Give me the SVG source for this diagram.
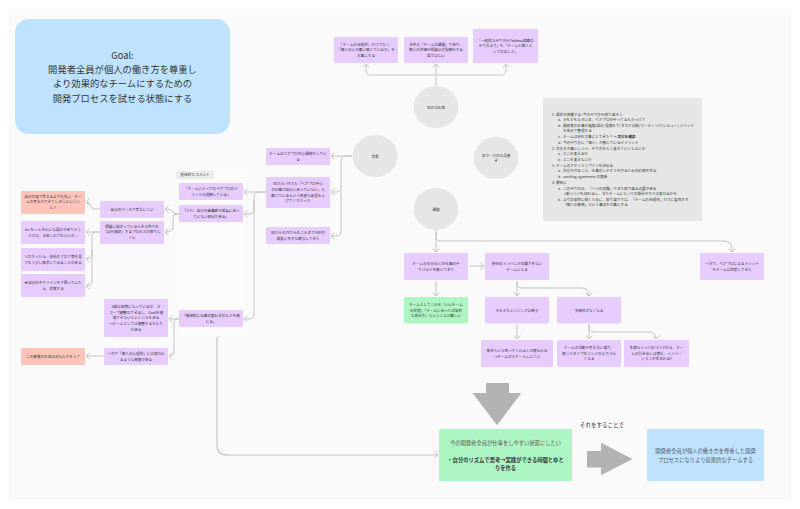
<svg xmlns="http://www.w3.org/2000/svg" width="800" height="509" viewBox="0 0 800 509">
<style>
text{font-family:"Noto Sans CJK JP","Liberation Sans",sans-serif;fill:#333}
.t{font-size:3.6px;text-anchor:middle}
.n{font-size:3.6px}
.b{font-weight:700}
.m{fill:#555}
.p{fill:#e6ccff}
.r{fill:#ffc4ba}
.g{fill:#aef5c4}
.c{fill:#e6e6e6}
.l{fill:none;stroke:#c4c4c4;stroke-width:1}
.big{fill:#b2b2b2;stroke:#b2b2b2;stroke-width:1;stroke-linejoin:round}
</style>
<defs>
<marker id="a" markerUnits="userSpaceOnUse" markerWidth="8" markerHeight="8" refX="6" refY="4" orient="auto"><path d="M2.500 .8L6 4L2.500 7.200" fill="none" stroke="#c4c4c4" stroke-width="1"/></marker>
</defs>
<rect width="800" height="509" fill="#fff"/>
<rect x="10" y="10" width="780" height="489" fill="#fafafa" stroke="#efefef" stroke-width=".6"/>
<rect x="176" y="171" width="71" height="166" rx="4" fill="#fbfbfb" stroke="#f4f4f4" stroke-width=".5"/>
<g id="connectors">
<path class="l" marker-end="url(#a)" d="M436 86V64"/>
<path class="l" marker-end="url(#a)" d="M436 75H371Q366 75 366 70V64"/>
<path class="l" marker-end="url(#a)" d="M436 75H501Q506 75 506 70V64"/>
<path class="l" marker-end="url(#a)" d="M352 156H331"/>
<path class="l" marker-end="url(#a)" d="M352 156H346Q341 156 341 161V187Q341 192 336 192H331"/>
<path class="l" marker-end="url(#a)" d="M341 190V231Q341 236 336 236H331"/>
<path class="l" marker-end="url(#a)" d="M266 192H244"/>
<path class="l" marker-end="url(#a)" d="M266 192H259Q254 192 254 197V209Q254 214 249 214H244"/>
<path class="l" marker-end="url(#a)" d="M254 200V314Q254 319 249 319H244"/>
<path class="l" marker-end="url(#a)" d="M179 214H177Q173 214 172 211Q171 209 165 209"/>
<path class="l" marker-end="url(#a)" d="M179 214H177Q173 214 173 218V228Q173 232 165 232"/>
<path class="l" marker-end="url(#a)" d="M100 209H94Q92 209 91 206Q90 202 86 202"/>
<path class="l" marker-end="url(#a)" d="M100 232H86"/>
<path class="l" marker-end="url(#a)" d="M100 232H95Q92 232 92 236V255Q92 259 86 259"/>
<path class="l" marker-end="url(#a)" d="M92 250V282Q92 286 86 286"/>
<path class="l" marker-end="url(#a)" d="M179 319H169"/>
<path class="l" marker-end="url(#a)" d="M179 319H177Q174 319 174 322V351Q174 356 169 356"/>
<path class="l" marker-end="url(#a)" d="M104 356H86"/>
<path class="l" style="stroke-width:1.200" marker-end="url(#a)" d="M217 337V445Q217 455 227 455H438"/>
<path class="l" marker-end="url(#a)" d="M436 230V252"/>
<path class="l" marker-end="url(#a)" d="M436 232V237Q436 241 441 241H724Q732 241 732 249V252"/>
<path class="l" marker-end="url(#a)" d="M469 266H484"/>
<path class="l" marker-end="url(#a)" d="M436 281V296"/>
<path class="l" marker-end="url(#a)" d="M517 281V296"/>
<path class="l" marker-end="url(#a)" d="M517 282V284Q517 288 522 288H582Q589 288 589 296"/>
<path class="l" marker-end="url(#a)" d="M517 324V339"/>
<path class="l" marker-end="url(#a)" d="M589 324V339"/>
<path class="l" marker-end="url(#a)" d="M589 325V328Q589 332 594 332H650Q656 332 656 339"/>
</g>
<g id="goal"><rect x="15" y="19" width="215" height="115" rx="14" fill="#bfe3ff"/>
<text x="122.500" y="59" text-anchor="middle" font-size="9.300">Goal:</text>
<text x="122.500" y="73" text-anchor="middle" font-size="9.300">開発者全員が個人の働き方を尊重し</text>
<text x="122.500" y="87" text-anchor="middle" font-size="9.300">より効果的なチームにするための</text>
<text x="122.500" y="101.500" text-anchor="middle" font-size="9.300">開発プロセスを試せる状態にする</text></g>
<g id="top1"><rect class="p" x="334" y="37" width="64" height="26" rx="1"/><text class="t" y="45.500"><tspan x="366">「チームの合理性」だけでなく、</tspan><tspan x="366" dy="5.700">「個人の心が悪い感じているか」を</tspan><tspan x="366" dy="5.700">大事にする</tspan></text></g>
<g id="top2"><rect class="p" x="404" y="37" width="64" height="26" rx="1"/><text class="t" y="45.500"><tspan x="436">本件は「チームの課題」であり、</tspan><tspan x="436" dy="5.700">個人の評価や問題点の指摘をする</tspan><tspan x="436" dy="5.700">場ではない</tspan></text></g>
<g id="top3"><rect class="p" x="473" y="29" width="65" height="34" rx="1"/><text class="t" y="41.500"><tspan x="505.500">「一般的なやり方やTableau組織の</tspan><tspan x="505.500" dy="5.700">やり方より」も「チームと個人と</tspan><tspan x="505.500" dy="5.700">しての正しさ」</tspan></text></g>
<g id="c1"><ellipse class="c" cx="436" cy="107" rx="22.500" ry="21"/><text class="t" x="436" y="108.500">会のお約束</text></g>
<g id="c2"><ellipse class="c" cx="375" cy="156" rx="22.500" ry="21"/><text class="t" x="375" y="157.500">背景</text></g>
<g id="c3"><ellipse class="c" cx="496" cy="158" rx="22.500" ry="21"/><text class="t" y="157"><tspan x="496">本ワークのお品書</tspan><tspan x="496" dy="5.200">き</tspan></text></g>
<g id="c4"><ellipse class="c" cx="436" cy="209" rx="22.500" ry="21"/><text class="t" x="436" y="210.500">課題</text></g>
<g id="note"><rect class="c" x="543" y="98" width="159" height="123"/>
<text class="n">
<tspan x="552" y="115.500">1.</tspan><tspan x="556" y="115.500">現状を把握する: 今のやり方を振り返ろう</tspan>
<tspan x="558" y="121">a.</tspan><tspan x="563" y="121">そもそもなぜいま、ペアプロをやってるんだっけ？</tspan>
<tspan x="558" y="126.500">b.</tspan><tspan x="563" y="126.500">開発者の仕事の種類(設計/見積もり/タスク分割/コーディング/レビュー) メリット</tspan>
<tspan x="563" y="132">を改めて整理する</tspan>
<tspan x="558" y="138">c.</tspan><tspan x="563" y="138">チームは何を大事にしてきた？→ </tspan><tspan class="b">文化を確認</tspan>
<tspan x="558" y="143.500">d.</tspan><tspan x="563" y="143.500">今のやり方に「個人」が感じているデメリット</tspan>
<tspan x="552" y="149.500">2.</tspan><tspan x="556" y="149.500">文化を大事にしつつ、やり方をどう変えていくとよいか</tspan>
<tspan x="558" y="155">a.</tspan><tspan x="563" y="155">どこを変えるか</tspan>
<tspan x="558" y="160.500">b.</tspan><tspan x="563" y="160.500">どこを変えないか</tspan>
<tspan x="552" y="166.500">3.</tspan><tspan x="556" y="166.500">チームのアクションプランを決める</tspan>
<tspan x="558" y="172">a.</tspan><tspan x="563" y="172">文化を守ること、仕事のしやすさを守るための約束を作る</tspan>
<tspan x="558" y="177.500">b.</tspan><tspan x="563" y="177.500">working agreement の更新</tspan>
<tspan x="552" y="183.500">4.</tspan><tspan x="556" y="183.500">最後に</tspan>
<tspan x="558" y="189.500">a.</tspan><tspan x="563" y="189.500">このやり方は、「一つの実験」でまた振り返る必要がある</tspan>
<tspan x="564" y="195">i.</tspan><tspan x="566" y="195">新メンバも加わるし、またチームにとっての働きやすさは変わるかも</tspan>
<tspan x="558" y="200.500">b.</tspan><tspan x="563" y="200.500">より効果的に働くために、振り返りでは、「チームの合理性」だけに着目せず</tspan>
<tspan x="563" y="206">「個人の感情」という事実を大事にする</tspan>
</text></g>
<g id="b1"><rect class="p" x="266" y="148" width="64" height="17" rx="1"/><text class="t" y="155.200"><tspan x="298">チームはペアプロ中心開発をしてい</tspan><tspan x="298" dy="5.700">る</tspan></text></g>
<g id="b2"><rect class="p" x="266" y="177" width="64" height="31" rx="1"/><text class="t" y="185.300"><tspan x="298">XXさん/ YYさん「ペアプロ中心</tspan><tspan x="298" dy="5.700">の仕事が自分にあっていない」と</tspan><tspan x="298" dy="5.700">感じているという率直な意見を上</tspan><tspan x="298" dy="5.700">げてくださった</tspan></text></g>
<g id="b3"><rect class="p" x="266" y="227" width="64" height="17" rx="1"/><text class="t" y="234.200"><tspan x="298">XXさんもYYさんもこれまでSKPの</tspan><tspan x="298" dy="5.700">成長に多大な寄与してきた</tspan></text></g>
<g id="panel-label"><rect x="176" y="171" width="38" height="8" rx="2" fill="#ececec"/><text x="195" y="176.400" text-anchor="middle" font-size="3.700">具体的なコメント</text></g>
<g id="b4"><rect class="p" x="179" y="183" width="64" height="17" rx="1"/><text class="t" y="190.200"><tspan x="211">「チームにとってのペアプロのメ</tspan><tspan x="211" dy="5.700">リットは理解している」</tspan></text></g>
<g id="b5"><rect class="p" x="179" y="205" width="64" height="17" rx="1"/><text class="t" y="212.200"><tspan x="211">「ただ、自分の<tspan class="b">仕事のリズム</tspan>に合っ</tspan><tspan x="211" dy="5.700">ていない部分がある」</tspan></text></g>
<g id="b6"><rect class="p" x="179" y="310" width="64" height="17" rx="1"/><text class="t" y="317.200"><tspan x="211">「精神的に仕事の疲れ辛のなさを感</tspan><tspan x="211" dy="5.700">じる」</tspan></text></g>
<g id="b7"><rect class="p" x="100" y="201" width="64" height="17" rx="1"/><text class="t" x="132" y="210.800">自分のペースで考えにくい</text></g>
<g id="b8"><rect class="p" x="100" y="221" width="64" height="23" rx="1"/><text class="t" y="227.500"><tspan x="132">問題に詰まっているとき以外でも</tspan><tspan x="132" dy="5.700">「試行錯誤」するプロセスが取りに</tspan><tspan x="132" dy="5.700">くい</tspan></text></g>
<g id="b9"><rect class="r" x="21" y="191" width="64" height="23" rx="1"/><text class="t" y="197.500"><tspan x="53">自分の頭で考えるよりも先に、チー</tspan><tspan x="53" dy="5.700">ムの考えができてしまうというこ</tspan><tspan x="53" dy="5.700">と？</tspan></text></g>
<g id="b10"><rect class="p" x="21" y="221" width="64" height="23" rx="1"/><text class="t" y="231.200"><tspan x="53">ex: もっときれいな設計がありそう</tspan><tspan x="53" dy="5.700">だけど、まあこれでもいいか...</tspan></text></g>
<g id="b11"><rect class="p" x="21" y="248" width="64" height="23" rx="1"/><text class="t" y="258.200"><tspan x="53">ソロだったら、他社のブログ等を見</tspan><tspan x="53" dy="5.700">てもう少し探求してみることがある</tspan></text></g>
<g id="b12"><rect class="p" x="21" y="274" width="64" height="23" rx="1"/><text class="t" y="284.200"><tspan x="53">★自分の中でラインを下回っていた</tspan><tspan x="53" dy="5.700">ら、提案する</tspan></text></g>
<g id="b13"><rect class="p" x="104" y="299" width="64" height="38" rx="1"/><text class="t" y="308"><tspan x="136">5割は納期になっているが、ス</tspan><tspan x="136" dy="5.700">コープ調整はできるし、Goalを達</tspan><tspan x="136" dy="5.700">成できないということもある</tspan><tspan x="136" dy="5.700">→チームとしては調整するゆとり</tspan><tspan x="136" dy="5.700">がある</tspan></text></g>
<g id="b14"><rect class="p" x="104" y="348" width="64" height="17" rx="1"/><text class="t" y="355.200"><tspan x="136">一方で「個人の心理的」には追われ</tspan><tspan x="136" dy="5.700">るような感覚がある</tspan></text></g>
<g id="b15"><rect class="r" x="21" y="348" width="64" height="17" rx="1"/><text class="t" x="53" y="358">この感覚の正体は何なんだろう？</text></g>
<g id="b16"><rect class="p" x="404" y="253" width="64" height="27" rx="1"/><text class="t" y="265"><tspan x="436">チームの半分(8人)が仕事のや</tspan><tspan x="436" dy="5.700">りづらさを感じてきた</tspan></text></g>
<g id="b17"><rect class="p" x="485" y="253" width="64" height="27" rx="1"/><text class="t" y="265"><tspan x="517">特定のメンバしか活躍できない</tspan><tspan x="517" dy="5.700">チームになる</tspan></text></g>
<g id="b18"><rect class="p" x="700" y="253" width="64" height="27" rx="1"/><text class="t" y="265"><tspan x="732">一方で、ペアプロによるメリット</tspan><tspan x="732" dy="5.700">もチームは享受してきた</tspan></text></g>
<g id="b19"><rect class="g" x="404" y="297" width="64" height="26.500" rx="1"/><text class="t" y="306"><tspan x="436">チームとしてこれを「いいチーム</tspan><tspan x="436" dy="5.700">の状態」「チームに合った効果的</tspan><tspan x="436" dy="5.700">な働き方」ということは難しい</tspan></text></g>
<g id="b20"><rect class="p" x="485" y="297" width="64" height="26.500" rx="1"/><text class="t" x="517" y="311.500">そもそもエンジニアは希少</text></g>
<g id="b21"><rect class="p" x="557" y="297" width="64" height="26.500" rx="1"/><text class="t" x="589" y="311.500">多様性がなくなる</text></g>
<g id="b22"><rect class="p" x="481" y="340" width="72" height="27" rx="1"/><text class="t" y="352"><tspan x="517">働きたいと思ってくれる人が限られる</tspan><tspan x="517" dy="5.700">→チームがスケールしにくい</tspan></text></g>
<g id="b23"><rect class="p" x="557" y="340" width="64" height="27" rx="1"/><text class="t" y="349"><tspan x="589">チームの活動や考え方に偏り、</tspan><tspan x="589" dy="5.700">違ったタイプのメンバが入りづら</tspan><tspan x="589" dy="5.700">くなる</tspan></text></g>
<g id="b24"><rect class="p" x="624" y="340" width="65" height="27" rx="1"/><text class="t" y="349"><tspan x="656.500">多様なメンバのコラボから、チー</tspan><tspan x="656.500" dy="5.700">ムの引き出しは増え、イノベー</tspan><tspan x="656.500" dy="5.700">ションが生まれる?</tspan></text></g>
<g id="arrow-down"><path class="big" d="M486.500 383.500H508.500V393.500H520.500L497 424.500L473.500 393.500H486.500Z"/></g>
<g id="arrow-right"><path class="big" d="M587.500 451.500H601.500V443.500L631.500 459L601.500 474.500V467H587.500Z"/></g>
<g id="green"><rect class="g" x="439" y="429" width="133" height="52" rx="1"/>
<text class="m" x="505.500" y="444.500" text-anchor="middle" font-size="5.300">今の開発者全員が仕事をしやすい状態にしたい</text>
<text x="505.500" y="461.500" text-anchor="middle" font-size="5.300" class="b">・自分のリズムで思考→実践ができる時間とゆと</text>
<text x="505.500" y="470" text-anchor="middle" font-size="5.300" class="b">りを作る</text></g>
<g id="blue"><rect x="647" y="429" width="117" height="52" rx="1" fill="#bfe3ff"/>
<text class="m" x="705.500" y="453" text-anchor="middle" font-size="5.300">開発者全員が個人の働き方を尊重した開発</text>
<text class="m" x="705.500" y="461.500" text-anchor="middle" font-size="5.300">プロセスになりより効果的なチームする</text></g>
<text x="602" y="427" text-anchor="middle" font-size="5.500">それをすることで</text>
</svg>
